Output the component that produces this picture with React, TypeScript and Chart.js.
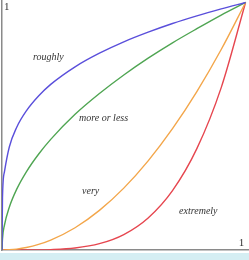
import React, { useEffect, useRef } from "react";
import { Chart, registerables } from "chart.js";

Chart.register(...registerables);

const xs = [0, 0.002, 0.01, 0.03, 0.06, 0.1, 0.15, 0.2, 0.3, 0.4, 0.5, 0.6, 0.7, 0.8, 0.9, 1];
const roughly = [0, 0.211, 0.316, 0.416, 0.495, 0.562, 0.622, 0.669, 0.74, 0.795, 0.841, 0.88, 0.915, 0.946, 0.974, 1];
const moreOrLess = [0, 0.045, 0.1, 0.173, 0.245, 0.316, 0.387, 0.447, 0.548, 0.632, 0.707, 0.775, 0.837, 0.894, 0.949, 1];
const very = [0, 0.000004, 0.0001, 0.0009, 0.0036, 0.01, 0.0225, 0.04, 0.09, 0.16, 0.25, 0.36, 0.49, 0.64, 0.81, 1];
const extremely = [0, 0, 0, 0, 0, 0.0001, 0.0005, 0.0016, 0.0081, 0.0256, 0.0625, 0.1296, 0.2401, 0.4096, 0.6561, 1];

const seriesNames = ["roughly", "more or less", "very", "extremely"];
const seriesColors = ["#5a4fdb", "#4fa552", "#f3a64a", "#e6464f"];

const labelTexts = ["roughly", "more or less", "very", "extremely"];
const labelX = [0.19, 0.417, 0.364, 0.806];
const labelY = [0.78, 0.53, 0.235, 0.158];

const tickTexts = ["1", "1"];
const tickX = [0.02, 0.983];
const tickY = [0.98, 0.028];

const textPlugin = {
  id: "textLabels",
  afterDatasetsDraw(chart: any) {
    const { ctx, scales } = chart;
    const xs_ = scales.x;
    const ys_ = scales.y;
    ctx.save();
    ctx.textAlign = "center";
    ctx.textBaseline = "middle";
    ctx.fillStyle = "#333333";
    ctx.font = "italic 10px 'Liberation Serif', serif";
    labelTexts.forEach((t, i) => {
      ctx.fillText(t, xs_.getPixelForValue(labelX[i]), ys_.getPixelForValue(labelY[i]));
    });
    ctx.font = "11px 'Liberation Serif', serif";
    tickTexts.forEach((t, i) => {
      ctx.fillText(t, xs_.getPixelForValue(tickX[i]), ys_.getPixelForValue(tickY[i]));
    });
    ctx.restore();
  },
};

export default function App() {
  const ref = useRef<HTMLCanvasElement>(null);
  useEffect(() => {
    document.body.style.margin = "0";
    const all = [roughly, moreOrLess, very, extremely];
    const chart = new Chart(ref.current as HTMLCanvasElement, {
      type: "line",
      data: {
        datasets: all.map((vals, i) => ({
          label: seriesNames[i],
          data: xs.map((x, j) => ({ x, y: vals[j] })),
          borderColor: seriesColors[i],
          borderWidth: 1.4,
          pointRadius: 0,
          fill: false,
          cubicInterpolationMode: "monotone" as const,
        })),
      },
      options: {
        responsive: false,
        animation: false,
        layout: { padding: { left: 2, right: 1, top: 0, bottom: 3 } },
        plugins: { legend: { display: false }, tooltip: { enabled: false } },
        scales: {
          x: {
            type: "linear",
            min: 0,
            max: 1.01,
            grid: { display: false, drawTicks: false, tickLength: 0 },
            ticks: { display: false, padding: 0 },
            border: { display: true, color: "#8a8a8a", width: 1.5 },
          },
          y: {
            type: "linear",
            min: 0,
            max: 1.01,
            grid: { display: false, drawTicks: false, tickLength: 0 },
            ticks: { display: false, padding: 0 },
            border: { display: true, color: "#8a8a8a", width: 1.5 },
          },
        },
      },
      plugins: [textPlugin],
    });
    return () => chart.destroy();
  }, []);
  return (
    <div style={{ width: 249, height: 260, background: "#ffffff" }}>
      <canvas ref={ref} width={249} height={253} style={{ display: "block" }} />
      <div style={{ height: 7, background: "#d5eef3" }} />
    </div>
  );
}
